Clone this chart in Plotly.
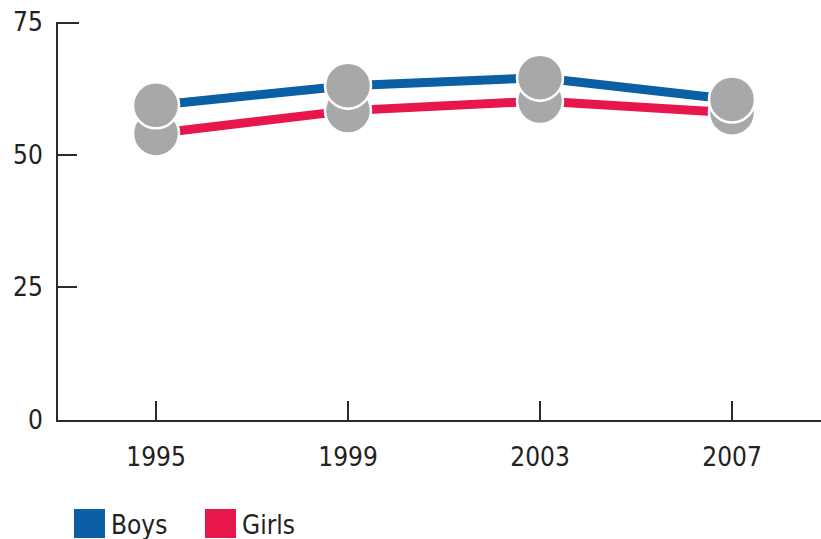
import plotly.graph_objects as go

# Survey years and percentage values for each group
years = [1995, 1999, 2003, 2007]
boys = [59.3, 63.0, 64.5, 60.4]
girls = [54.0, 58.3, 60.1, 57.9]
y_ticks = [0, 25, 50, 75]

BLUE = "#0B5FA5"
RED = "#E8174B"
GREY = "#A7A8AA"
AXIS = "#2b2b2b"
FONT = "DejaVu Sans Condensed, Liberation Sans Narrow, sans-serif"
FS = 26

W, H = 821, 539
L, R, T, B = 58, 0, 22, 119
pw, ph = W - L - R, H - T - B

fig = go.Figure()

# connecting lines first so the markers sit on top
for vals, col in [(girls, RED), (boys, BLUE)]:
    fig.add_trace(go.Scatter(x=years, y=vals, mode="lines",
                             line=dict(color=col, width=9),
                             showlegend=False, cliponaxis=False,
                             hoverinfo="skip"))

# grey discs, girls underneath boys
for vals, name in [(girls, "Girls"), (boys, "Boys")]:
    fig.add_trace(go.Scatter(x=years, y=vals, mode="markers", name=name,
                             marker=dict(size=46, color=GREY,
                                         line=dict(color="white", width=2.5)),
                             showlegend=False, cliponaxis=False))

# legend: coloured squares with labels below the plot
def px_x(p):
    return (p - L) / pw

def px_y(p):
    return (H - B - p) / ph

legend_items = [("Boys", BLUE, 74), ("Girls", RED, 205)]
shapes, annotations = [], []
for label, col, x0 in legend_items:
    shapes.append(dict(type="rect", xref="paper", yref="paper",
                       x0=px_x(x0), x1=px_x(x0 + 31),
                       y0=px_y(538), y1=px_y(509),
                       fillcolor=col, line=dict(width=0)))
    annotations.append(dict(text=label, xref="paper", yref="paper",
                            x=px_x(x0 + 35), y=px_y(525),
                            xanchor="left", yanchor="middle", showarrow=False,
                            font=dict(family=FONT, size=FS, color="#222")))

# heavier cap on the top of the value axis
shapes.append(dict(type="line", xref="paper", yref="y",
                   x0=0, x1=px_x(79), y0=max(y_ticks), y1=max(y_ticks),
                   line=dict(color=AXIS, width=4)))

fig.update_layout(
    width=W, height=H,
    margin=dict(l=L, r=R, t=T, b=B),
    paper_bgcolor="white", plot_bgcolor="white",
    font=dict(family=FONT, size=FS, color="#222"),
    shapes=shapes, annotations=annotations,
    xaxis=dict(range=[1995 - (156 - L) / 48, 1995 + (W - R - 156) / 48],
               tickvals=years, ticktext=[str(y) for y in years],
               ticks="inside", ticklen=19, tickwidth=2, tickcolor=AXIS,
               showline=True, linecolor=AXIS, linewidth=2,
               showgrid=False, zeroline=False, ticklabelstandoff=13,
               fixedrange=True),
    yaxis=dict(range=[0, 75], tickvals=y_ticks,
               ticks="inside", ticklen=19, tickwidth=2, tickcolor=AXIS,
               showline=True, linecolor=AXIS, linewidth=2,
               showgrid=False, zeroline=False, ticklabelstandoff=8,
               fixedrange=True),
)

fig.write_html("out.html")
